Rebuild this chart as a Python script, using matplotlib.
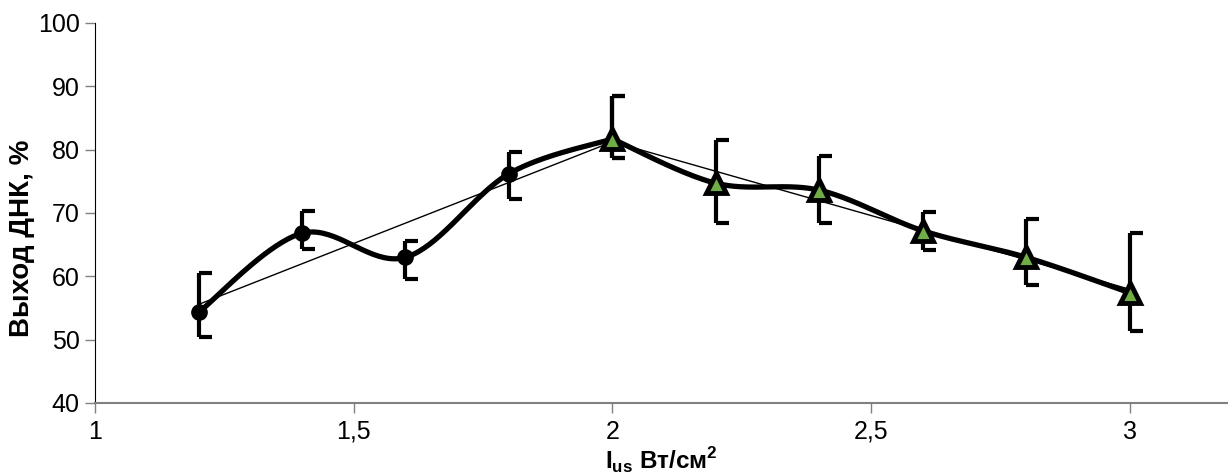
import numpy as np
import matplotlib
matplotlib.use("Agg")
import matplotlib.pyplot as plt
from matplotlib.path import Path
from matplotlib.ticker import FixedLocator, FuncFormatter

plt.rcParams['font.family'] = ['Liberation Sans', 'DejaVu Sans']
plt.rcParams['mathtext.fontset'] = 'custom'
plt.rcParams['mathtext.rm'] = 'Liberation Sans'
plt.rcParams['mathtext.bf'] = 'Liberation Sans:bold'

# серия 1 (кружки) и серия 2 (треугольники)
x1 = [1.2, 1.4, 1.6, 1.8, 2.0]
y1 = [54.3, 66.8, 63.0, 76.2, 81.7]
top1 = [60.5, 70.3, 65.6, 79.6, 88.5]
bot1 = [50.4, 64.3, 59.6, 72.2, 78.7]

x2 = [2.0, 2.2, 2.4, 2.6, 2.8, 3.0]
y2 = [81.7, 74.7, 73.6, 67.2, 63.0, 57.4]
top2 = [88.5, 81.5, 79.0, 70.2, 69.0, 66.8]
bot2 = [78.7, 68.4, 68.4, 64.2, 58.6, 51.4]

xticks = [1, 1.5, 2, 2.5, 3]
yticks = [40, 50, 60, 70, 80, 90, 100]


def smooth(xs, ys, n=40):
    # сглаживание как в Excel (Catmull-Rom -> Безье)
    p = np.column_stack([xs, ys])
    p = np.vstack([p[0], p, p[-1]])
    out = []
    for i in range(1, len(p) - 2):
        p0, p1, p2, p3 = p[i - 1], p[i], p[i + 1], p[i + 2]
        c1 = p1 + (p2 - p0) / 6
        c2 = p2 - (p3 - p1) / 6
        t = np.linspace(0, 1, n)[:, None]
        seg = (1 - t) ** 3 * p1 + 3 * (1 - t) ** 2 * t * c1 + 3 * (1 - t) * t ** 2 * c2 + t ** 3 * p2
        out.append(seg)
    out = np.vstack(out)
    return out[:, 0], out[:, 1]


cap = Path([(0, 0), (1, 0)], [Path.MOVETO, Path.LINETO])

fig = plt.figure(figsize=(12.28, 4.75), dpi=100)
ax = fig.add_axes([0.0774, 0.1516, 0.9226, 0.80])

for xs, ys, tp, bt in [(x1, y1, top1, bot1), (x2, y2, top2, bot2)]:
    # линейный тренд
    k, b = np.polyfit(xs, ys, 1)
    xx = np.array([xs[0], xs[-1]])
    ax.plot(xx, k * xx + b, color='black', lw=1, zorder=2)
    sx, sy = smooth(xs, ys)
    ax.plot(sx, sy, color='black', lw=3.8, zorder=3, solid_capstyle='round')
    ax.vlines(xs, bt, tp, color='black', lw=3, zorder=4)
    ax.plot(xs, tp, ls='none', marker=cap, ms=18, mew=3, color='black', zorder=4)
    ax.plot(xs, bt, ls='none', marker=cap, ms=18, mew=3, color='black', zorder=4)

ax.plot(x1[:-1], y1[:-1], 'o', color='black', ms=11, zorder=5)
ax.plot(x2, y2, '^', color='#70AD47', mec='black', mew=3.5, ms=14, zorder=5)

ax.set_xlim(1, 3.19)
ax.set_ylim(40, 100)
ax.xaxis.set_major_locator(FixedLocator(xticks))
ax.yaxis.set_major_locator(FixedLocator(yticks))
ax.xaxis.set_major_formatter(FuncFormatter(lambda v, p: ('%g' % v).replace('.', ',')))
ax.tick_params(axis='both', labelsize=18, colors='#808080', labelcolor='black', length=7, width=1)
ax.tick_params(axis='x', pad=5)
ax.tick_params(axis='y', pad=4)

for s in ['top', 'right']:
    ax.spines[s].set_visible(False)
ax.spines['left'].set_color('black')
ax.spines['bottom'].set_color('#808080')
ax.spines['bottom'].set_linewidth(1.5)

ax.set_ylabel('Выход ДНК, %', fontsize=20, fontweight='bold')
ax.yaxis.set_label_coords(-0.053, 0.434)
ax.set_xlabel(r'$\mathbf{I_{us}}$ Вт/см$^\mathbf{2}$', fontsize=17.5, fontweight='bold', labelpad=1)

fig.savefig('out.png', dpi=100)
